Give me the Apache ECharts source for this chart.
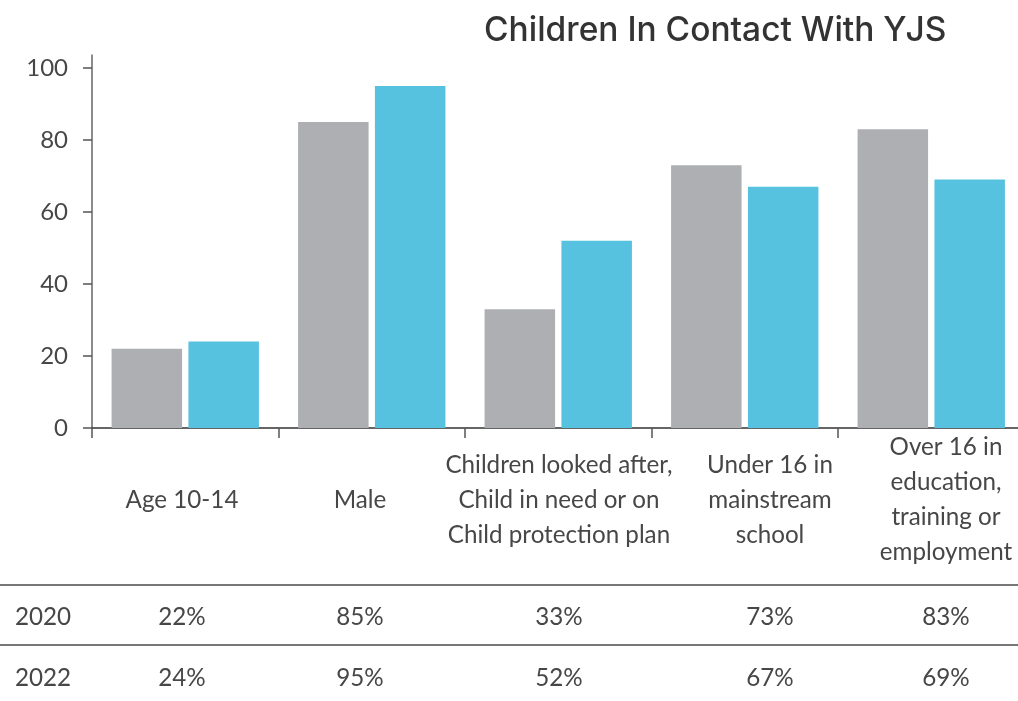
<!DOCTYPE html>
<html>
<head>
<meta charset="utf-8">
<script src="https://cdn.jsdelivr.net/npm/echarts@6/dist/echarts.min.js"></script>
<style>
  html, body { margin: 0; padding: 0; background: #fff; overflow: hidden; }
  /* the plot area runs a little past the right edge of the window */
  #chart { width: 1025px; height: 701px; }
</style>
</head>
<body>
<div id="chart"></div>
<script>
// Categories and yearly shares (percent of children in contact with YJS)
const categories = [
  'Age 10-14',
  'Male',
  'Children looked after,\nChild in need or on\nChild protection plan',
  'Under 16 in\nmainstream\nschool',
  'Over 16 in\neducation,\ntraining or\nemployment'
];
const years = ['2020', '2022'];
const values2020 = [22, 85, 33, 73, 83];
const values2022 = [24, 95, 52, 67, 69];
const yTicks = [0, 20, 40, 60, 80, 100];

// Layout of the label / data-table block under the plot
const columnCenters = [182, 360, 559, 770, 946];
const labelCenterY = 500;
const labelLineHeight = 35;
const rowY = [617, 678];
const ruleY = [585, 645];

const textColor = '#474747';
const labelFont = 'Lato, "Open Sans", sans-serif';
const labelCss = '400 24.2px ' + labelFont;

const chart = echarts.init(document.getElementById('chart'), null, { renderer: 'canvas' });

const graphics = [];
// category labels
categories.forEach((c, i) => {
  graphics.push({
    type: 'text',
    x: columnCenters[i],
    y: labelCenterY,
    style: {
      text: c,
      fill: textColor,
      font: labelCss,
      align: 'center',
      verticalAlign: 'middle',
      lineHeight: labelLineHeight
    }
  });
});
// table rules
ruleY.forEach(y => {
  graphics.push({
    type: 'line',
    shape: { x1: 0, y1: y, x2: 1025, y2: y },
    style: { stroke: '#4a4a4a', lineWidth: 1.5 }
  });
});
// table rows
[values2020, values2022].forEach((vals, r) => {
  graphics.push({
    type: 'text', x: 15, y: rowY[r],
    style: { text: years[r], fill: textColor, font: labelCss, align: 'left', verticalAlign: 'middle' }
  });
  vals.forEach((v, i) => {
    graphics.push({
      type: 'text', x: columnCenters[i], y: rowY[r],
      style: { text: v + '%', fill: textColor, font: labelCss, align: 'center', verticalAlign: 'middle' }
    });
  });
});

chart.setOption({
  animation: false,
  backgroundColor: '#fff',
  title: {
    text: 'Children In Contact With YJS',
    left: 479,
    top: 9,
    textStyle: { fontFamily: 'Inter, sans-serif', fontWeight: 500, fontSize: 33.5, color: '#333' }
  },
  grid: { left: 92, top: 55, width: 932.5, height: 373 },
  xAxis: {
    type: 'category',
    data: categories,
    axisLine: { lineStyle: { color: '#333', width: 1.5 } },
    axisTick: { show: true, length: 10, lineStyle: { color: '#555', width: 1.5 } },
    axisLabel: { show: false }
  },
  yAxis: {
    type: 'value',
    min: 0,
    max: 103.6,
    axisLine: { show: true, lineStyle: { color: '#666', width: 1.5 } },
    axisTick: { show: true, length: 9, customValues: yTicks, lineStyle: { color: '#555', width: 1.5 } },
    axisLabel: {
      customValues: yTicks,
      margin: 24,
      color: textColor,
      fontFamily: labelFont,
      fontWeight: 400,
      fontSize: 24
    },
    splitLine: { show: false }
  },
  series: [
    {
      name: years[0], type: 'bar', data: values2020,
      barWidth: 70.5, barGap: '9%',
      itemStyle: { color: '#aeafb3' }
    },
    {
      name: years[1], type: 'bar', data: values2022,
      barWidth: 70.5,
      itemStyle: { color: '#56c2df' }
    }
  ],
  graphic: graphics
});
</script>
</body>
</html>
